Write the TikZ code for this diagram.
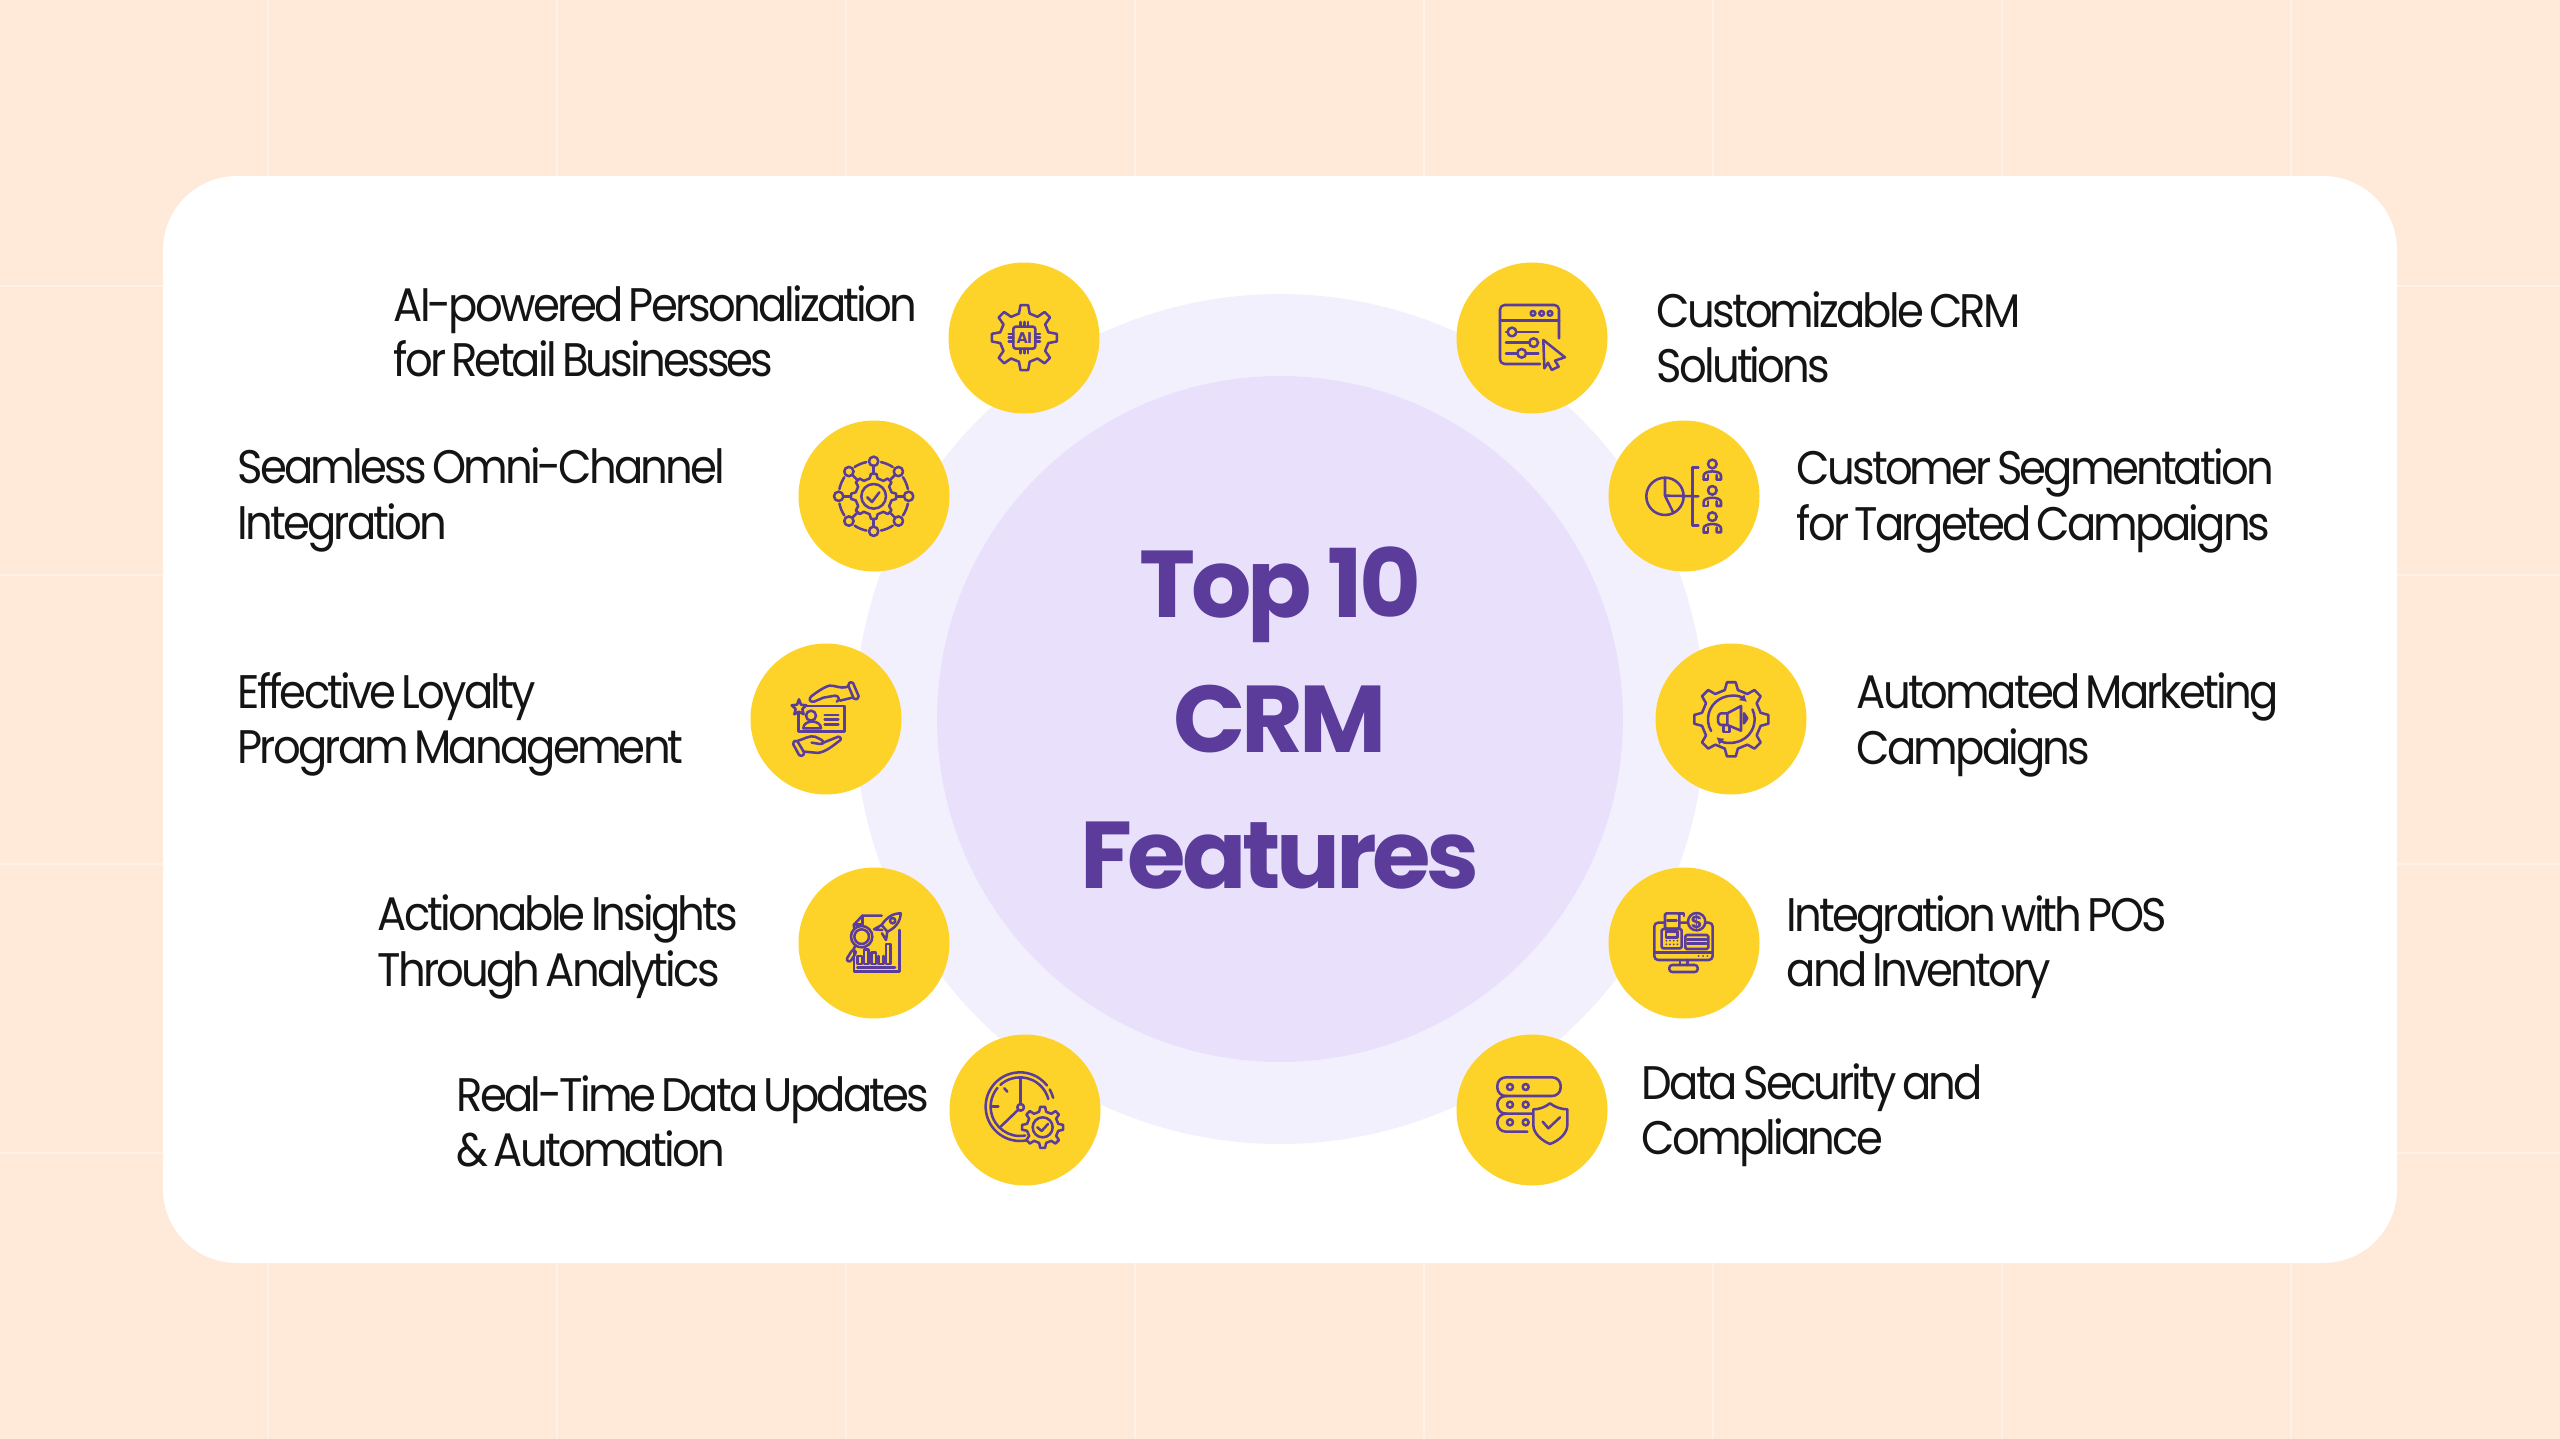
\documentclass[tikz,border=0pt]{standalone}
\usepackage{fontspec}
\setmainfont{Poppins}[FakeStretch=0.92,LetterSpace=-6,WordSpace=0.6]
\newfontfamily\titlefont{Poppins}[LetterSpace=-4.5]
\usepackage{xcolor}
\usetikzlibrary{positioning,arrows.meta}
\definecolor{peach}{HTML}{FFE9D9}
\definecolor{peachline}{HTML}{FFF1E6}
\definecolor{haloviolet}{HTML}{F3F0FD}
\definecolor{discviolet}{HTML}{E9E1FC}
\definecolor{crmyellow}{HTML}{FDD329}
\definecolor{crmpurple}{HTML}{5B3C9A}
\definecolor{inkblack}{HTML}{141414}
\tikzset{
	badge/.style={circle,fill=crmyellow,inner sep=0pt,minimum size=15.1mm},
	feature/.style={anchor=west,align=left,inner sep=0pt,text=inkblack,font=\fontsize{13.4pt}{15.7pt}\selectfont},
	iconline/.style={draw=crmpurple,line width=0.72pt,line join=round,line cap=round},
	iconfill/.style={iconline,fill=crmyellow},
	icondot/.style={fill=crmpurple}
}
% arguments: x, y, outer radius, root radius, teeth, angle of first tooth
\newcommand{\gearshape}[6]{%
	\pgfmathsetmacro{\gstep}{360/#5}
	\begin{scope}[shift={(#1,#2)}]
	\draw[iconfill] ({#6-0.28*\gstep}:#4) foreach \g in {1,...,#5} {
		-- ({#6+(\g-1)*\gstep-0.15*\gstep}:#3) -- ({#6+(\g-1)*\gstep+0.15*\gstep}:#3)
		-- ({#6+(\g-1)*\gstep+0.28*\gstep}:#4) -- ({#6+(\g-1)*\gstep+0.72*\gstep}:#4)
	} -- cycle;
	\end{scope}
}
\begin{document}
\begin{tikzpicture}[x=0.1mm,y=-0.1mm]
	\useasboundingbox (0,0) rectangle (2560,1439);
	\fill[peach] (0,0) rectangle (2560,1439);
	\foreach \gx in {268,557,846,1135,1424,1713,2002,2291}
		\draw[peachline,line width=0.7pt] (\gx,0)--(\gx,1439);
	\foreach \gy in {286,575,864,1153}
		\draw[peachline,line width=0.7pt] (0,\gy)--(2560,\gy);
	\fill[white,rounded corners=7.4mm] (163,176) rectangle (2397,1263);

	\node[circle,fill=haloviolet,inner sep=0pt,minimum size=85mm] at (1280,719) (halo) {};
	\node[circle,fill=discviolet,inner sep=0pt,minimum size=68.6mm] at (1280,719) (disc) {};
	\node[align=center,text=crmpurple,font=\titlefont\bfseries\fontsize{27pt}{38.6pt}\selectfont] at (1280,718) (title) {Top 10\\CRM\\Features};

	\node[badge] at (1024,338) (ai) {};
	\node[badge] at (874,496) (omni) {};
	\node[badge] at (826,719) (loyalty) {};
	\node[badge] at (874,943) (insights) {};
	\node[badge] at (1025,1110) (realtime) {};
	\node[badge] at (1532,338) (custom) {};
	\node[badge] at (1684,496) (segment) {};
	\node[badge] at (1731,719) (marketing) {};
	\node[badge] at (1684,943) (pos) {};
	\node[badge] at (1532,1110) (security) {};

	\node[feature] at (393,331) (ailabel) {AI-powered Personalization\\for Retail Businesses};
	\node[feature] at (237,500) (omnilabel) {Seamless Omni-Channel\\Integration};
	\node[feature] at (237,724) (loyaltylabel) {Effective Loyalty\\Program Management};
	\node[feature] at (377,947) (insightslabel) {Actionable Insights\\Through Analytics};
	\node[feature] at (456,1121) (realtimelabel) {Real-Time Data Updates\\\& Automation};
	\node[feature] at (1656,337) (customlabel) {Customizable CRM\\Solutions};
	\node[feature] at (1796,501) (segmentlabel) {Customer Segmentation\\for Targeted Campaigns};
	\node[feature] at (1856,725) (marketinglabel) {Automated Marketing\\Campaigns};
	\node[feature] at (1786,947) (poslabel) {Integration with POS\\and Inventory};
	\node[feature] at (1641,1115) (securitylabel) {Data Security and\\Compliance};

	% gear with chip
	\begin{scope}[shift={(930,250)},scale=0.3333]
	\gearshape{283}{263}{98}{74}{8}{0}
	\draw[iconline,rounded corners=0.7pt] (250,230) rectangle (316,296);
	\foreach \pin in {272,283,294} {
		\draw[iconline] (\pin,216)--(\pin,230);
		\draw[iconline] (\pin,296)--(\pin,310);
	}
	\foreach \pin in {252,263,274} {
		\draw[iconline] (236,\pin)--(250,\pin);
		\draw[iconline] (316,\pin)--(330,\pin);
	}
	\node[inner sep=0pt,text=crmpurple,font=\titlefont\bfseries\fontsize{4.4pt}{5pt}\selectfont] at (283,263) (chip) {AI};
	\end{scope}

	% network
	\begin{scope}[shift={(780,410)},scale=0.3333]
	\begin{scope}[shift={(281,259)}]
	\foreach \a in {0,45,...,315} {
		\draw[iconline] (\a:68)--(\a:91);
		\draw[iconline] (\a+12:105) arc (\a+12:\a+33:105);
		\draw[iconline] (\a:105) circle[radius=14];
	}
	\end{scope}
	\gearshape{281}{259}{68}{55}{8}{0}
	\draw[iconline] (281,259) circle[radius=37];
	\draw[iconline] (262,262)--(276,276)--(298,247);
	\end{scope}

	% card in hands
	\begin{scope}[shift={(740,630)},scale=0.3333]
	\draw[iconline] (176,228) rectangle (313,305);
	\draw[iconline] (213,257) circle[radius=15];
	\draw[iconline] (190,295) .. controls (190,268) and (243,268) .. (243,295) -- cycle;
	\foreach \row in {255,268,283}
		\draw[iconline] (254,\row)--(295,\row);
	\draw[iconfill] (177,208)--(183,224)--(199,226)--(187,237)--(191,253)--(177,245)--(163,253)--(167,237)--(155,226)--(171,224)--cycle;
	\draw[iconline] (323,170) .. controls (300,178) and (285,165) .. (268,167) .. controls (250,172) and (225,190) .. (213,200) .. controls (205,208) and (210,217) .. (222,215) -- (250,203) -- (285,197) .. controls (298,197) and (300,212) .. (290,215);
	\draw[iconline] (300,212)--(337,203);
	\draw[iconline,rounded corners=0.5pt] (323,162)--(337,154)--(358,203)--(343,210)--cycle;
	\draw[iconline] (172,333) .. controls (190,328) and (210,315) .. (225,320) -- (245,330) .. controls (255,338) and (250,342) .. (240,342) -- (215,338);
	\draw[iconline] (245,340)--(295,320) .. controls (305,322) and (305,330) .. (295,335) .. controls (270,355) and (245,372) .. (225,368) -- (193,365);
	\draw[iconline,rounded corners=0.5pt] (157,338)--(170,330)--(195,372)--(180,380)--cycle;
	\end{scope}

	% report with rocket
	\begin{scope}[shift={(780,850)},scale=0.3333]
	\draw[iconline] (305,197)--(247,197)--(222,224)--(222,232);
	\draw[iconline] (247,197)--(247,224)--(222,224);
	\draw[iconline] (222,295)--(222,365)--(358,365)--(358,240);
	\draw[iconline] (232,352)--(345,352);
	\foreach \bx/\by in {232/318,252/298,274/308,318/282}
		\draw[iconline] (\bx,\by) rectangle (\bx+14,342);
	\draw[iconline] (296,318)--(296,342)--(310,342)--(310,318);
	\draw[iconfill] (245,260) circle[radius=32];
	\draw[iconline] (245,260) circle[radius=22];
	\draw[iconline] (226,288)--(218,302);
	\draw[iconline,rounded corners=0.7pt] (218,298)--(230,305)--(210,337)--(198,330)--cycle;
	\draw[iconfill] (362,190) .. controls (335,190) and (318,205) .. (305,225) -- (322,245) .. controls (345,235) and (362,215) .. (362,190) -- cycle;
	\draw[iconline] (338,212) circle[radius=8];
	\draw[iconline] (305,225)--(282,238)--(307,240);
	\draw[iconline] (322,245)--(318,270)--(306,250);
	\end{scope}

	% clock with gear
	\begin{scope}[shift={(930,1020)},scale=0.3333]
	\begin{scope}[shift={(270,260)}]
	\draw[iconline] (80:103) arc (80:322:103);
	\draw[iconline] (330:103) arc (330:345:103);
	\draw[iconline] (80:88) arc (80:220:88);
	\draw[iconline] (228:88) arc (228:345:88);
	\end{scope}
	\draw[iconline] (272,262) circle[radius=10];
	\draw[iconline] (272,252)--(272,172);
	\draw[iconline] (264,270)--(212,320);
	\draw[iconline] (188,260)--(205,260);
	\draw[iconline] (223,205)--(232,215);
	\gearshape{338}{322}{62}{48}{8}{0}
	\draw[iconline] (338,322) circle[radius=30];
	\draw[iconline] (322,322)--(335,333)--(354,312);
	\end{scope}

	% window with sliders
	\begin{scope}[shift={(1440,250)},scale=0.3333]
	\draw[iconline,rounded corners=1.3pt] (300,342)--(180,342)--(180,165)--(357,165)--(357,265);
	\draw[iconline] (180,212)--(357,212);
	\foreach \dotx in {279,305,330}
		\draw[iconline] (\dotx,190) circle[radius=7];
	\draw[iconline] (198,246)--(295,246);
	\draw[iconline] (198,278)--(295,278);
	\draw[iconline] (198,310)--(295,310);
	\draw[iconfill] (216,246) circle[radius=13];
	\draw[iconfill] (281,278) circle[radius=13];
	\draw[iconfill] (245,310) circle[radius=13];
	\draw[iconline] (310,270)--(375,322)--(345,332)--(356,350)--(335,360)--(324,338)--(313,355)--cycle;
	\end{scope}

	% pie and people
	\begin{scope}[shift={(1590,410)},scale=0.3333]
	\draw[iconline] (225,259) circle[radius=56];
	\draw[iconline] (225,203)--(225,257)--(250,308);
	\draw[iconline] (225,257)--(325,259);
	\draw[iconline] (325,172)--(307,172)--(307,347)--(325,347);
	\foreach \py in {0,79,158} {
		\draw[iconline] (367,162+\py) circle[radius=13];
		\draw[iconline] (341,209+\py)--(341,197+\py) .. controls (341,180+\py) and (393,180+\py) .. (393,197+\py)--(393,209+\py)--(380,209+\py)--(380,195+\py);
		\draw[iconline] (354,195+\py)--(354,209+\py)--(341,209+\py);
	}
	\end{scope}

	% gear with megaphone
	\begin{scope}[shift={(1640,630)},scale=0.3333]
	\gearshape{274}{268}{112}{90}{8}{0}
	\begin{scope}[shift={(274,268)}]
	\draw[iconline,-{Latex[length=2pt,width=2.4pt]}] (150:70) arc (150:312:70);
	\draw[iconline,-{Latex[length=2pt,width=2.4pt]}] (335:70) arc (335:490:70);
	\end{scope}
	\draw[iconline,rounded corners=0.6pt] (262,250)--(238,250)--(232,268)--(238,285)--(262,285);
	\draw[iconline] (262,250)--(303,228)--(303,302)--(262,285)--cycle;
	\draw[iconline,icondot] (312,250)--(322,265)--(312,280)--cycle;
	\draw[iconline] (251,285)--(251,306)--(268,306)--(268,290);
	\end{scope}

	% cash register on monitor
	\begin{scope}[shift={(1590,850)},scale=0.3333]
	\draw[iconline,rounded corners=1.1pt] (193,218) rectangle (368,330);
	\draw[iconline] (193,308)--(368,308);
	\foreach \dotx in {326,339,352}
		\fill[crmpurple] (\dotx,318) circle[radius=3];
	\draw[iconline] (270,330)--(270,345);
	\draw[iconline] (293,330)--(293,345);
	\draw[iconline,rounded corners=0.8pt] (238,366)--(238,345)--(323,345)--(323,366)--cycle;
	\draw[iconfill,rounded corners=0.4pt] (225,190) rectangle (268,236);
	\draw[iconline] (268,190)--(282,190)--(282,198);
	\draw[iconline] (232,212)--(260,212);
	\draw[iconfill,rounded corners=0.4pt] (215,237) rectangle (275,295);
	\draw[iconline] (228,245) rectangle (262,262);
	\foreach \keyx in {229,240,251,262}
		\foreach \keyy in {272,283}
			\fill[crmpurple] (\keyx,\keyy) circle[radius=3];
	\draw[iconfill] (320,215) circle[radius=26];
	\node[inner sep=0pt,text=crmpurple,font=\titlefont\bfseries\fontsize{5pt}{6pt}\selectfont] at (320,216) (coin) {\$};
	\draw[iconline,rounded corners=0.4pt] (286,255) rectangle (355,297);
	\draw[iconline] (292,268)--(349,268);
	\draw[iconline] (292,280)--(349,280);
	\end{scope}

	% servers and shield
	\begin{scope}[shift={(1440,1020)},scale=0.3333]
	\draw[iconline,rounded corners=2.4pt] (172,172) rectangle (362,228);
	\draw[iconline,rounded corners=2.4pt] (280,281)--(172,281)--(172,228)--(200,228);
	\draw[iconline,rounded corners=2.4pt] (262,335)--(172,335)--(172,281)--(200,281);
	\foreach \rowy in {201,254,307}
		\foreach \colx in {210,257}
			\draw[iconline] (\colx,\rowy) circle[radius=9];
	\draw[iconfill] (330,250) .. controls (315,262) and (297,268) .. (280,268) -- (280,315) .. controls (280,340) and (305,362) .. (330,372) .. controls (357,362) and (382,340) .. (382,315) -- (382,268) .. controls (365,268) and (345,262) .. (330,250) -- cycle;
	\draw[iconline] (308,305)--(325,325)--(360,292);
	\end{scope}
\end{tikzpicture}
\end{document}
